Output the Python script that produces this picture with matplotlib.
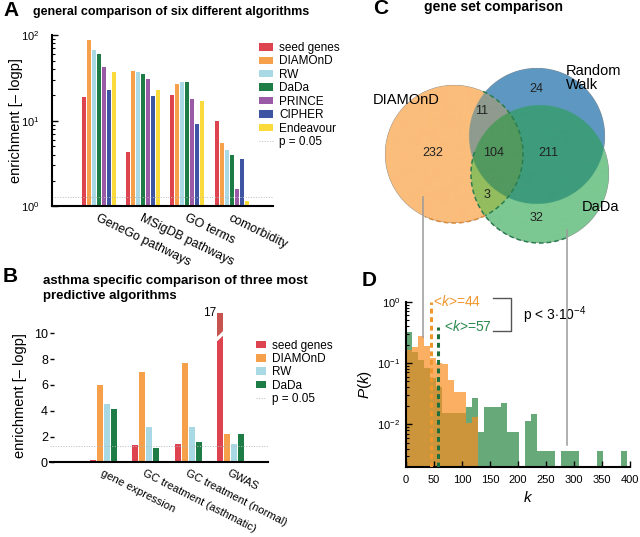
import numpy as np
import matplotlib.pyplot as plt
from matplotlib.colors import to_rgba

plt.rcParams['font.family'] = ['Liberation Sans', 'DejaVu Sans']
plt.rcParams['mathtext.fontset'] = 'custom'
plt.rcParams['mathtext.rm'] = 'Liberation Sans'
plt.rcParams['mathtext.it'] = 'Liberation Sans:italic'
plt.rcParams['mathtext.bf'] = 'Liberation Sans:bold'

# ---- panel A data: enrichment [-log p]
groups_a = ['GeneGo pathways', 'MSigDB pathways', 'GO terms', 'comorbidity']
methods_a = ['seed genes', 'DIAMOnD', 'RW', 'DaDa', 'PRINCE', 'CIPHER', 'Endeavour']
seed_a = [18.8, 4.3, 19.7, 9.8]
diamond_a = [87.6, 38.1, 26.7, 5.5]
rw_a = [67.0, 36.5, 28.6, 4.6]
dada_a = [60.0, 35.5, 27.9, 3.95]
prince_a = [42.8, 30.5, 18.0, 1.58]
cipher_a = [22.7, 19.3, 9.2, 3.6]
endeavour_a = [37.4, 23.1, 16.8, 1.15]

# ---- panel B data
groups_b = ['gene expression', 'GC treatment (asthmatic)', 'GC treatment (normal)', 'GWAS']
methods_b = ['seed genes', 'DIAMOnD', 'RW', 'DaDa']
seed_b = [0.18, 1.37, 1.42, 17.0]
diamond_b = [6.02, 7.03, 7.72, 2.22]
rw_b = [4.55, 2.74, 2.71, 1.42]
dada_b = [4.1, 1.08, 1.57, 2.22]

p_cut = 0.05

# ---- panel C data: gene set overlaps
only_diamond, only_rw, only_dada = 232, 24, 32
diamond_rw, rw_dada, diamond_dada, all_three = 11, 211, 3, 104

# ---- panel D data: degree distributions P(k)
bin_w = 10.65
p_dada = [0.32, 0.15, 0.11, 0.083, 0.056, 0.04, 0.015, 0.015, 0.015, 0.015,
          0.019, 0.027, 0.0075, 0.019, 0.019, 0.019, 0.022, 0.0075, 0.0075, 0,
          0.0113, 0.0149, 0.0037, 0.0037, 0.0037, 0, 0.0037, 0.0037, 0.0037, 0,
          0, 0, 0.0037, 0, 0, 0, 0.0037]
p_diamond = [0.16, 0.18, 0.275, 0.19, 0.12, 0.10, 0.095, 0.053, 0.034, 0.034,
             0.0104, 0.0133]
mean_diamond, mean_dada = 44, 57

c_seed = '#de4450'
c_diamond = '#f6a04c'
c_rw = '#a9d9e4'
c_dada = '#1e7d47'
c_prince = '#9b5aa6'
c_cipher = '#3d55a3'
c_endeavour = '#fbdb3b'
c_pline = '#bbbbbb'

fig = plt.figure(figsize=(6.4, 5.37), dpi=100)


def fx(px):
    return px / 640


def fy(py):
    return 1 - py / 537


# ================= A =================
ax_a = fig.add_axes([fx(52), fy(206.3), fx(273) - fx(52), fy(35) - fy(206.3)])
xa = np.arange(len(groups_a))
slot_a, bw_a = 0.113, 0.09
series_a = [seed_a, diamond_a, rw_a, dada_a, prince_a, cipher_a, endeavour_a]
colors_a = [c_seed, c_diamond, c_rw, c_dada, c_prince, c_cipher, c_endeavour]
handles_a = []
for j, (vals, col, lab) in enumerate(zip(series_a, colors_a, methods_a)):
    b = ax_a.bar(xa + (j - 3) * slot_a, vals, width=bw_a, color=col, lw=0, label=lab)
    handles_a.append(b)
pl = ax_a.axhline(-np.log10(p_cut), color=c_pline, lw=0.7, ls=':', label='p = 0.05')
handles_a.append(pl)
ax_a.set_yscale('log')
ax_a.set_ylim(1, 100)
ax_a.set_xlim(-1.056, 3.93)
ax_a.set_xticks(xa)
ax_a.set_xticklabels(groups_a, rotation=-26, ha='left', va='top',
                     rotation_mode='anchor', fontsize=9)
ax_a.tick_params(axis='x', length=0, pad=4)
ax_a.tick_params(axis='y', which='both', direction='in', labelsize=8, pad=9)
ax_a.tick_params(axis='y', which='major', length=4, width=1)
ax_a.tick_params(axis='y', which='minor', length=2, width=0.8)
for s in ['top', 'right']:
    ax_a.spines[s].set_visible(False)
for s in ['left', 'bottom']:
    ax_a.spines[s].set_linewidth(1.5)
ax_a.set_ylabel('enrichment [– logp]', fontsize=10.5)
ax_a.yaxis.set_label_coords(-0.165, 0.5)
ax_a.yaxis.label.set_va('center')
ax_a.legend(handles_a, methods_a + ['p = 0.05'], loc='upper left',
            bbox_to_anchor=(fx(259), fy(42)), bbox_transform=fig.transFigure,
            frameon=False, fontsize=8.5, handlelength=1.2, handleheight=0.6,
            handletextpad=0.5, labelspacing=0.12, borderpad=0, borderaxespad=0)

# ================= B =================
ax_b = fig.add_axes([fx(50), fy(462.3), fx(268) - fx(50), fy(312.7) - fy(462.3)])
xb = np.arange(len(groups_b))
slot_b, bw_b = 0.165, 0.1415
cap = 11.55
series_b = [np.minimum(seed_b, cap), diamond_b, rw_b, dada_b]
colors_b = [c_seed, c_diamond, c_rw, c_dada]
handles_b = []
for j, (vals, col, lab) in enumerate(zip(series_b, colors_b, methods_b)):
    b = ax_b.bar(xb + (j - 1.5) * slot_b, vals, width=bw_b, color=col, lw=0, label=lab)
    handles_b.append(b)
# broken bar for values above the cap
for i, v in enumerate(seed_b):
    if v > cap:
        xl = xb[i] - 1.5 * slot_b - bw_b / 2
        xr = xl + bw_b
        ax_b.bar(xl, cap - 9.7, bottom=9.7, width=bw_b, align='edge', color='#c8544f', lw=0)
        ax_b.fill([xl - 0.01, xr + 0.01, xr + 0.01, xl - 0.01],
                  [9.35, 9.85, 10.2, 9.7], color='white', lw=0, zorder=3)
        ax_b.text(xl - 0.02, cap, f'{v:g}', ha='right', va='center', fontsize=8.5)
pl = ax_b.axhline(-np.log10(p_cut), color=c_pline, lw=0.7, ls=':', label='p = 0.05')
handles_b.append(pl)
ax_b.set_ylim(0, 11.6)
ax_b.set_xlim(-1.258, 3.883)
ax_b.set_yticks([0, 2, 4, 6, 8, 10])
ax_b.set_xticks(xb)
ax_b.set_xticklabels(groups_b, rotation=-27, ha='left', va='top',
                     rotation_mode='anchor', fontsize=8)
ax_b.tick_params(axis='x', length=0, pad=4)
ax_b.tick_params(axis='y', direction='in', length=3, width=1, labelsize=9, pad=1.5)
for s in ['top', 'right', 'left']:
    ax_b.spines[s].set_visible(False)
ax_b.spines['bottom'].set_linewidth(1.5)
ax_b.set_ylabel('enrichment [– logp]', fontsize=10.5)
ax_b.yaxis.set_label_coords(-0.138, 0.444)
ax_b.yaxis.label.set_va('center')
ax_b.legend(handles_b, methods_b + ['p = 0.05'], loc='upper left',
            bbox_to_anchor=(fx(256), fy(339.5)), bbox_transform=fig.transFigure,
            frameon=False, fontsize=8.5, handlelength=0.85, handleheight=0.6,
            handletextpad=0.5, labelspacing=0.12, borderpad=0, borderaxespad=0)

# ================= D =================
ax_d = fig.add_axes([fx(406), fy(467), fx(630) - fx(406), fy(301.7) - fy(467)])
edges = np.arange(len(p_dada)) * bin_w
pd_arr = np.array(p_dada)
nz = pd_arr > 0
ax_d.bar(edges[nz], pd_arr[nz], width=bin_w, align='edge', color='#68a97a', lw=0)
ax_d.bar(edges[:len(p_diamond)], p_diamond, width=bin_w, align='edge',
         color='#f88d21', alpha=0.7, lw=0)
ax_d.set_yscale('log')
ax_d.set_ylim(0.002, 1.0)
ax_d.set_xlim(0, 400)
ax_d.vlines(mean_diamond, 0.002, 1.0, color='#f0962f', lw=2.2, ls=(0, (1.6, 1.2)), zorder=4)
ax_d.vlines(mean_dada, 0.002, 0.39, color='#1f6e3e', lw=2.2, ls=(0, (1.6, 1.2)), zorder=4)
ax_d.text(48.8, 1.0, r'<$k$>=%d' % mean_diamond, color='#f0962f', fontsize=10,
          ha='left', va='center')
ax_d.text(67.9, 0.39, r'<$k$>=%d' % mean_dada, color='#2b8a4e', fontsize=10,
          ha='left', va='center')
ax_d.set_xticks(np.arange(0, 401, 50))
ax_d.tick_params(axis='both', which='both', direction='in', labelsize=8)
ax_d.tick_params(axis='x', length=4, width=1, pad=6)
ax_d.tick_params(axis='y', which='major', length=4, width=1, pad=4)
ax_d.tick_params(axis='y', which='minor', length=2, width=0.8)
for s in ['top', 'right']:
    ax_d.spines[s].set_visible(False)
for s in ['left', 'bottom']:
    ax_d.spines[s].set_linewidth(1.5)
ax_d.set_xlabel('$k$', fontsize=11)
ax_d.xaxis.set_label_coords(0.545, -0.1875)
ax_d.xaxis.label.set_va('center')
ax_d.set_ylabel('$P(k)$', fontsize=11)
ax_d.yaxis.set_label_coords(-0.185, 0.5)
ax_d.yaxis.label.set_va('center')

# ================= overlay: C venn, letters, connectors =================
ov = fig.add_axes([0, 0, 1, 1], zorder=5)
cx = [454, 537, 540]
cy = [154, 136, 174]
rr = [69, 68, 69]
xs = np.linspace(380, 615, 941)
ys = np.linspace(62, 250, 753)
X, Y = np.meshgrid(xs, ys)
inside = [(X - cx[i]) ** 2 + (Y - cy[i]) ** 2 <= rr[i] ** 2 for i in range(3)]
code = inside[0] * 1 + inside[1] * 2 + inside[2] * 4
palette = {1: '#fbbd7b', 2: '#5e98c2', 4: '#7cc892', 3: '#8f9b8e',
           6: '#3e9c7c', 5: '#93bd5e', 7: '#52995f'}
img = np.zeros(X.shape + (4,))
for c, col in palette.items():
    img[code == c] = to_rgba(col)
ov.imshow(img, extent=(380, 615, 250, 62), origin='upper', aspect='auto',
          interpolation='antialiased', zorder=1)


def arc(i, t0, t1, **kw):
    t = np.radians(np.linspace(t0, t1, 100))
    ov.plot(cx[i] + rr[i] * np.cos(t), cy[i] + rr[i] * np.sin(t), **kw)


arc(0, 63, 115, color='#d98a3c', lw=1.1, ls=(0, (3, 2)), zorder=2)
arc(0, -65, 63, color='#2a7d4f', lw=1.1, ls=(0, (3, 2)), zorder=2)
arc(2, 68, 200, color='#2a7d4f', lw=1.1, ls=(0, (3, 2)), zorder=2)

venn_txt = [(433, 153, only_diamond), (482, 111, diamond_rw), (536, 89, only_rw),
            (494, 153, all_three), (548, 153, rw_dada), (487, 195, diamond_dada),
            (537, 218, only_dada)]
for x, y, n in venn_txt:
    ov.text(x, y, str(n), ha='center', va='center', fontsize=9, color='#222222')
ov.text(406, 100, 'DIAMOnD', ha='center', va='center', fontsize=10.5)
ov.text(566, 78, 'Random\nWalk', ha='left', va='center', fontsize=10.5, linespacing=1.0)
ov.text(582, 207, 'DaDa', ha='left', va='center', fontsize=10.5)

# connector lines from venn to degree distributions
ov.plot([423, 423], [197, 337], color='#9a9a9a', lw=1.1, zorder=6)
ov.plot([567, 567], [230, 445], color='#9a9a9a', lw=1.1, zorder=6)

# significance bracket
ov.plot([493, 510.7, 510.7, 493], [297.7, 297.7, 331, 331], color='#555555', lw=1)
ov.text(523, 315, r'p < 3$\cdot$10$^{-4}$', ha='left', va='center', fontsize=10)

# panel letters and titles
for x, y, s in [(3, 11, 'A'), (3, 277, 'B'), (373, 9, 'C'), (362, 281, 'D')]:
    ov.text(x, y, s, ha='left', va='center', fontsize=15, fontweight='bold')
ov.text(33, 12.5, 'general comparison of six different algorithms', ha='left',
        va='center', fontsize=9, fontweight='bold')
ov.text(43, 288.5, 'asthma specific comparison of three most\npredictive algorithms',
        ha='left', va='center', fontsize=9.5, fontweight='bold', linespacing=1.25)
ov.text(493, 7.5, 'gene set comparison', ha='center', va='center', fontsize=10,
        fontweight='bold')

ov.set_xlim(0, 640)
ov.set_ylim(537, 0)
ov.axis('off')

fig.savefig('out.png', dpi=100)
